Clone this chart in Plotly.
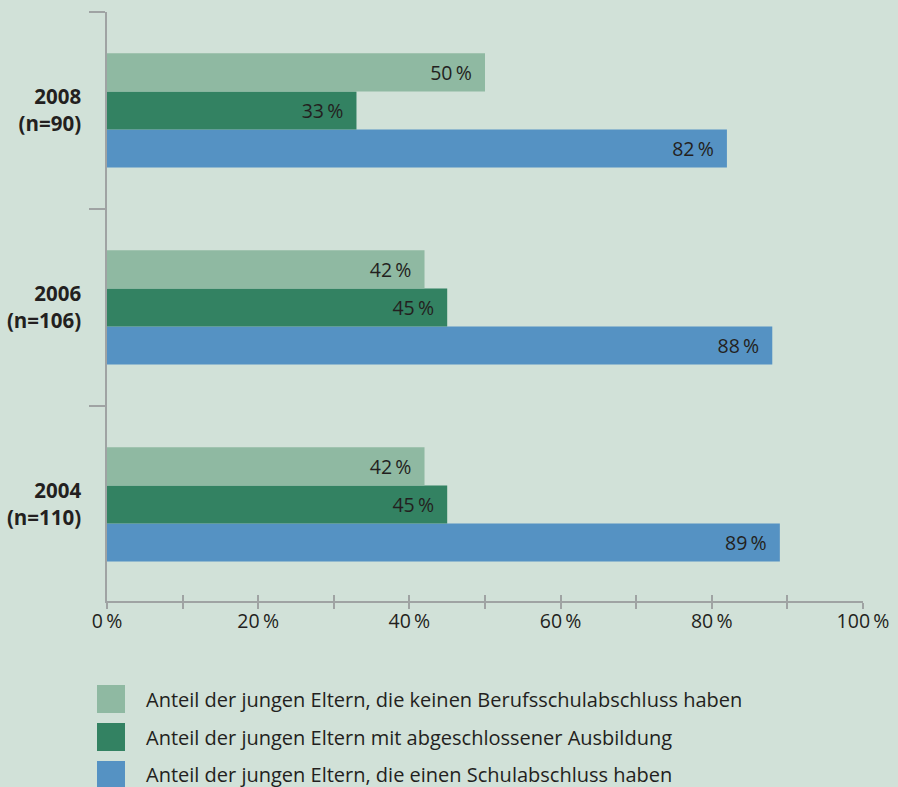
import plotly.graph_objects as go

# ---- data ----
categories = ["2004", "2006", "2008"]
cat_labels = ["2004<br>(n=110)", "2006<br>(n=106)", "2008<br>(n=90)"]
series_names = [
    "Anteil der jungen Eltern, die keinen Berufsschulabschluss haben",
    "Anteil der jungen Eltern mit abgeschlossener Ausbildung",
    "Anteil der jungen Eltern, die einen Schulabschluss haben",
]
vals_kein_beruf = [42, 42, 50]
vals_ausbildung = [45, 45, 33]
vals_schule = [89, 88, 82]
series_values = [vals_kein_beruf, vals_ausbildung, vals_schule]
series_colors = ["#8fb9a2", "#338262", "#5592c3"]
x_tickvals = [0, 10, 20, 30, 40, 50, 60, 70, 80, 90, 100]
x_ticktext = ["0\u2009%", "", "20\u2009%", "", "40\u2009%", "", "60\u2009%", "", "80\u2009%", "", "100\u2009%"]

BG = "#d1e1d8"
AX = "#9fa3a3"
TXT = "#231f20"
FONT = "Open Sans, Noto Sans, sans-serif"

fig = go.Figure()
# add in reverse so that the first series sits on top within each group
for name, vals, col in reversed(list(zip(series_names, series_values, series_colors))):
    fig.add_trace(go.Bar(
        y=categories, x=vals, orientation="h", name=name,
        marker=dict(color=col, line=dict(width=0)),
        text=[f"{v}\u2009%\u00a0\u00a0" for v in vals],
        textposition="inside", insidetextanchor="end", textangle=0,
        insidetextfont=dict(color=TXT, size=19.5, family=FONT),
        showlegend=False, hoverinfo="skip",
    ))

# second x axis only to draw the inside half of the crossing ticks
fig.add_trace(go.Scatter(x=[None], y=[None], xaxis="x2", showlegend=False, hoverinfo="skip"))

fig.update_layout(
    width=898, height=787,
    margin=dict(l=107, r=35, t=12, b=186, autoexpand=False),
    paper_bgcolor=BG, plot_bgcolor=BG,
    barmode="group", bargap=0.42, bargroupgap=0,
    font=dict(family=FONT, color=TXT, size=19),
    xaxis=dict(range=[0, 100], tickvals=x_tickvals, ticktext=x_ticktext, automargin=False,
               showgrid=False, zeroline=False, showline=True, linecolor=AX, linewidth=1.5,
               ticks="outside", ticklen=6, tickwidth=1.5, tickcolor=AX,
               ticklabelstandoff=-4,
               tickfont=dict(size=19.5, color=TXT, family=FONT)),
    xaxis2=dict(range=[0, 100], overlaying="x", anchor="y", side="bottom", automargin=False,
                tickvals=x_tickvals, showticklabels=False, showgrid=False, zeroline=False,
                ticks="inside", ticklen=6, tickwidth=1.5, tickcolor=AX, showline=False),
    yaxis=dict(type="category", categoryorder="array", categoryarray=categories,
               tickvals=categories, ticktext=cat_labels, range=[-0.49, 2.5], automargin=False,
               showgrid=False, zeroline=False, showline=True, linecolor=AX, linewidth=1.5,
               ticks="outside", tickson="boundaries", ticklen=16, tickwidth=1.5, tickcolor=AX,
               ticklabelstandoff=20,
               tickfont=dict(size=20.5, color=TXT, family=FONT, weight="bold")),
)

# manual legend with large swatches
plot_h = 787 - 12 - 186
plot_w = 898 - 107 - 35
row_px = [699, 737, 775]
sw = 28
for name, col, py in zip(series_names, series_colors, row_px):
    yc = (601 - py) / plot_h
    fig.add_shape(type="rect", xref="paper", yref="paper",
                  x0=(97 - 107) / plot_w, x1=(97 + sw - 107) / plot_w,
                  y0=yc - sw / 2 / plot_h, y1=yc + sw / 2 / plot_h,
                  fillcolor=col, line=dict(width=0), layer="above")
    fig.add_annotation(xref="paper", yref="paper", x=(144 - 107) / plot_w, y=yc,
                       text=name, showarrow=False, xanchor="left", yanchor="middle",
                       font=dict(size=20, color=TXT, family=FONT))

fig.write_html("out.html", config={"displayModeBar": False},
               post_script="document.body.style.margin='0';document.body.style.overflow='hidden';")
